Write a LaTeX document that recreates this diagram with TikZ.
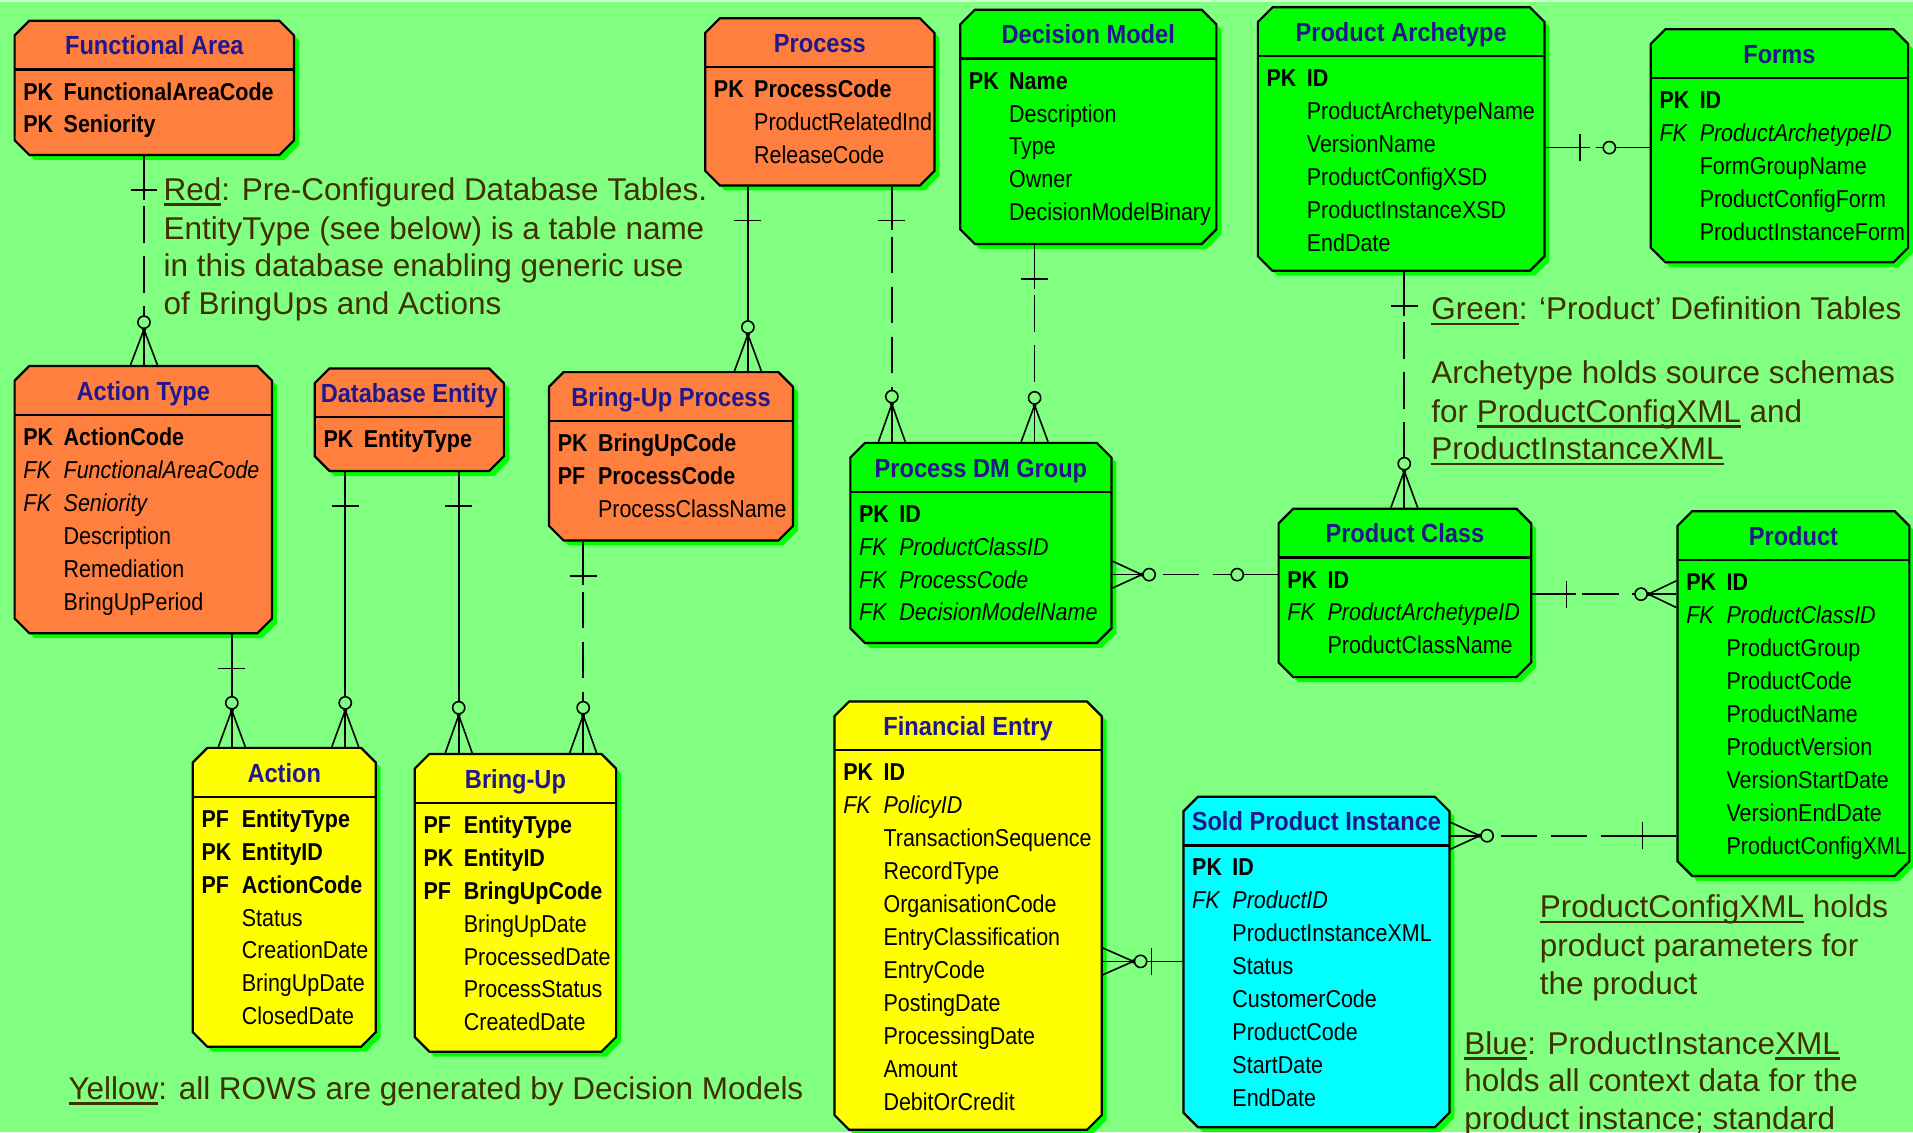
\documentclass[tikz,border=0pt]{standalone}
\usepackage{fontspec}
\setmainfont{Liberation Sans}
\newfontfamily\tabfont{Liberation Sans}[FakeStretch=0.88]
\newfontfamily\ttlfont{Liberation Sans}[FakeStretch=0.9]
\usetikzlibrary{shapes.misc,shadows,fit,calc}

\definecolor{bggreen}{RGB}{128,255,128}
\definecolor{bgtop}{RGB}{205,255,205}
\definecolor{tblorange}{RGB}{255,127,63}
\definecolor{tblgreen}{RGB}{0,255,0}
\definecolor{tblyellow}{RGB}{255,255,0}
\definecolor{tblcyan}{RGB}{0,255,255}
\definecolor{titleblue}{RGB}{34,24,140}
\definecolor{notebrown}{RGB}{64,48,0}

% underline drawn as a rule just below the baseline
\newcommand\undl[1]{\setbox0\hbox{#1}\rlap{\rule[-4.5pt]{\wd0}{2pt}}\box0\relax}

\tikzset{
  tbox/.style={chamfered rectangle, chamfered rectangle xsep=6pt,
    chamfered rectangle ysep=6pt, draw=black, line width=1.8pt, inner sep=0pt,
    drop shadow={shadow xshift=4pt, shadow yshift=-4pt, fill=tblgreen, opacity=1}},
  hdrline/.style={line width=1.8pt},
  ttl/.style={anchor=base, inner sep=0pt, text=titleblue,
    font=\ttlfont\bfseries\fontsize{21.5}{24}\selectfont},
  rowtxt/.style={anchor=base west, inner sep=0pt, text=black},
  note/.style={anchor=base west, inner sep=0pt, text=notebrown,
    font=\fontsize{25.8}{31}\selectfont},
  rel/.style={line width=1.3pt, black},
  nonid/.style={rel, dash pattern=on 30pt off 11pt},
  % "one" end: solid stub with a cross bar
  onebar/.pic={\draw[rel] (0,0) -- (0,36); \draw[rel] (-11,28) -- (11,28);},
  % bar only
  xbar/.pic={\draw[rel] (-11,-#1) -- (11,-#1);},
  % "zero or many" end: crow's foot and ring
  zmany/.pic={
    \draw[rel] (0,0) -- (0,-#1);
    \draw[rel] (-11,0) -- (0,-#1) -- (11,0);
    \fill (0,-#1) circle (1.7);
    \draw[rel, fill=bggreen] (0,{-#1-6}) circle (5);},
  % "zero or one" end: ring only
  zone/.pic={
    \draw[rel] (0,0) -- (0,{-#1+5});
    \draw[rel, fill=bggreen] (0,-#1) circle (5);}
}

\newcommand\rowfont{\tabfont\fontsize{20}{24}\selectfont}

% #1 name, #2 fill, #3 x1, #4 y1, #5 x2, #6 y2, #7 title, #8 rows (style/key/name)
% the chamfered shape grows by its 6pt chamfer on every side, so fit the inner box
\newcommand\ertable[8]{%
  \node[tbox, fill=#2, fit={({#3+6},{#4+6}) ({#5-6},{#6-6})}] (#1) {};
  \draw[hdrline] (#3,{#4+40}) -- (#5,{#4+40});
  \node[ttl] (#1-title) at ({(#3+#5)/2},{#4+28}) {#7};
  \foreach[count=\ri from 0] \fs/\kk/\nn in {#8}{
    \node[rowtxt, font=\rowfont\fs] (#1-k\ri) at ({#3+7},{#4+65+27*\ri}) {\kk};
    \node[rowtxt, font=\rowfont\fs] (#1-n\ri) at ({#3+40},{#4+65+27*\ri}) {\nn};
  }}

\begin{document}
\begin{tikzpicture}[x=1pt, y=-1pt]
\useasboundingbox (0,0) rectangle (1568,928);
\fill[bggreen] (0,0) rectangle (1568,928);
\fill[bgtop] (0,0) rectangle (1568,2);

% ---------- tables ----------
\ertable{fa}{tblorange}{12}{17}{241}{127}{Functional Area}{
  \bfseries/PK/FunctionalAreaCode, \bfseries/PK/Seniority}
\ertable{proc}{tblorange}{578}{15}{766}{152}{Process}{
  \bfseries/PK/ProcessCode, \relax//ProductRelatedInd, \relax//ReleaseCode}
\ertable{dm}{tblgreen}{787}{8}{997}{200}{Decision Model}{
  \bfseries/PK/Name, \relax//Description, \relax//Type, \relax//Owner,
  \relax//DecisionModelBinary}
\ertable{pa}{tblgreen}{1031}{6}{1266}{222}{Product Archetype}{
  \bfseries/PK/ID, \relax//ProductArchetypeName, \relax//VersionName,
  \relax//ProductConfigXSD, \relax//ProductInstanceXSD, \relax//EndDate}
\ertable{forms}{tblgreen}{1353}{24}{1564}{215}{Forms}{
  \bfseries/PK/ID, \itshape/FK/ProductArchetypeID, \relax//FormGroupName,
  \relax//ProductConfigForm, \relax//ProductInstanceForm}
\ertable{at}{tblorange}{12}{300}{223}{519}{Action Type}{
  \bfseries/PK/ActionCode, \itshape/FK/FunctionalAreaCode, \itshape/FK/Seniority,
  \relax//Description, \relax//Remediation, \relax//BringUpPeriod}
\ertable{de}{tblorange}{258}{302}{413}{386}{Database Entity}{
  \bfseries/PK/EntityType}
\ertable{bup}{tblorange}{450}{305}{650}{443}{Bring-Up Process}{
  \bfseries/PK/BringUpCode, \bfseries/PF/ProcessCode, \relax//ProcessClassName}
\ertable{pdg}{tblgreen}{697}{363}{911}{527}{Process DM Group}{
  \bfseries/PK/ID, \itshape/FK/ProductClassID, \itshape/FK/ProcessCode,
  \itshape/FK/DecisionModelName}
\ertable{pc}{tblgreen}{1048}{417}{1255}{555}{Product Class}{
  \bfseries/PK/ID, \itshape/FK/ProductArchetypeID, \relax//ProductClassName}
\ertable{prod}{tblgreen}{1375}{419}{1565}{718}{Product}{
  \bfseries/PK/ID, \itshape/FK/ProductClassID, \relax//ProductGroup,
  \relax//ProductCode, \relax//ProductName, \relax//ProductVersion,
  \relax//VersionStartDate, \relax//VersionEndDate, \relax//ProductConfigXML}
\ertable{act}{tblyellow}{158}{613}{308}{858}{Action}{
  \bfseries/PF/EntityType, \bfseries/PK/EntityID, \bfseries/PF/ActionCode,
  \relax//Status, \relax//CreationDate, \relax//BringUpDate, \relax//ClosedDate}
\ertable{bu}{tblyellow}{340}{618}{505}{862}{Bring-Up}{
  \bfseries/PF/EntityType, \bfseries/PK/EntityID, \bfseries/PF/BringUpCode,
  \relax//BringUpDate, \relax//ProcessedDate, \relax//ProcessStatus,
  \relax//CreatedDate}
\ertable{fe}{tblyellow}{684}{575}{903}{926}{Financial Entry}{
  \bfseries/PK/ID, \itshape/FK/PolicyID, \relax//TransactionSequence,
  \relax//RecordType, \relax//OrganisationCode, \relax//EntryClassification,
  \relax//EntryCode, \relax//PostingDate, \relax//ProcessingDate,
  \relax//Amount, \relax//DebitOrCredit}
\ertable{spi}{tblcyan}{970}{653}{1188}{924}{Sold Product Instance}{
  \bfseries/PK/ID, \itshape/FK/ProductID, \relax//ProductInstanceXML,
  \relax//Status, \relax//CustomerCode, \relax//ProductCode,
  \relax//StartDate, \relax//EndDate}

% ---------- relationships ----------
% Functional Area -> Action Type
\draw[nonid] (fa.south -| 118,0) -- (at.north -| 118,0);
\pic at (fa.south -| 118,0) {onebar};
\pic at (at.north -| 118,0) {zmany=29};
% Action Type -> Action
\draw[rel] (at.south -| 190,0) -- (act.north -| 190,0);
\pic at (at.south -| 190,0) {onebar};
\pic at (act.north -| 190,0) {zmany=30};
% Database Entity -> Action
\draw[rel] (de.south -| 283,0) -- (act.north -| 283,0);
\pic at (de.south -| 283,0) {onebar};
\pic at (act.north -| 283,0) {zmany=30};
% Database Entity -> Bring-Up
\draw[rel] (de.south -| 376,0) -- (bu.north -| 376,0);
\pic at (de.south -| 376,0) {onebar};
\pic at (bu.north -| 376,0) {zmany=31};
% Bring-Up Process -> Bring-Up
\draw[nonid] (bup.south -| 478,0) -- (bu.north -| 478,0);
\pic at (bup.south -| 478,0) {onebar};
\pic at (bu.north -| 478,0) {zmany=31};
% Process -> Bring-Up Process
\draw[rel] (proc.south -| 613,0) -- (bup.north -| 613,0);
\pic at (proc.south -| 613,0) {onebar};
\pic at (bup.north -| 613,0) {zmany=30};
% Process -> Process DM Group
\draw[nonid] (proc.south -| 731,0) -- (pdg.north -| 731,0);
\pic at (proc.south -| 731,0) {onebar};
\pic at (pdg.north -| 731,0) {zmany=31};
% Decision Model -> Process DM Group
\draw[nonid] (dm.south -| 848,0) -- (pdg.north -| 848,0);
\pic at (dm.south -| 848,0) {onebar};
\pic at (pdg.north -| 848,0) {zmany=30};
% Product Archetype -> Product Class
\draw[nonid] (pa.south -| 1151,0) -- (pc.north -| 1151,0);
\pic at (pa.south -| 1151,0) {onebar};
\pic at (pc.north -| 1151,0) {zmany=30};
% Product Archetype -> Forms
\draw[nonid] (pa.east |- 0,121) -- (forms.west |- 0,121);
\pic[rotate=90] at (pa.east |- 0,121) {onebar};
\pic[rotate=90] at (forms.west |- 0,121) {zone=33};
% Product Class -> Process DM Group
\draw[nonid] (pdg.east |- 0,471) -- (pc.west |- 0,471);
\pic[rotate=-90] at (pdg.east |- 0,471) {zmany=24};
\pic[rotate=90] at (pc.west |- 0,471) {zone=33};
% Product Class -> Product
\draw[nonid] (pc.east |- 0,487) -- (prod.west |- 0,487);
\pic[rotate=90] at (pc.east |- 0,487) {onebar};
\pic[rotate=90] at (prod.west |- 0,487) {zmany=23};
% Product -> Sold Product Instance
\draw[nonid] (spi.east |- 0,685) -- (prod.west |- 0,685);
\pic[rotate=-90] at (spi.east |- 0,685) {zmany=24};
\pic[rotate=-90] at (prod.west |- 0,685) {onebar};
% Sold Product Instance -> Financial Entry
\draw[rel] (fe.east |- 0,788) -- (spi.west |- 0,788);
\pic[rotate=-90] at (fe.east |- 0,788) {zmany=25};
\pic[rotate=-90] at (fe.east |- 0,788) {xbar=40};

% ---------- notes ----------
\node[note] (n1a) at (134,164) {\undl{Red}: Pre-Configured Database Tables.};
\node[note] (n1b) at (134,196) {EntityType (see below) is a table name};
\node[note] (n1c) at (134,227) {in this database enabling generic use};
\node[note] (n1d) at (134,258) {of BringUps and Actions};
\node[note] (n2a) at (1173,262) {\undl{Green}: ‘Product’ Definition Tables};
\node[note] (n3a) at (1173,314) {Archetype holds source schemas};
\node[note] (n3b) at (1173,346) {for \undl{ProductConfigXML} and};
\node[note] (n3c) at (1173,377) {\undl{ProductInstanceXML}};
\node[note] (n4a) at (1262,752) {\undl{ProductConfigXML} holds};
\node[note] (n4b) at (1262,784) {product parameters for};
\node[note] (n4c) at (1262,815) {the product};
\node[note] (n5a) at (1200,864) {\undl{Blue}: ProductInstance\undl{XML}};
\node[note] (n5b) at (1200,895) {holds all context data for the};
\node[note] (n5c) at (1200,926) {product instance; standard};
\node[note] (n6a) at (56,901) {\undl{Yellow}: all ROWS are generated by Decision Models};
\end{tikzpicture}
\end{document}
